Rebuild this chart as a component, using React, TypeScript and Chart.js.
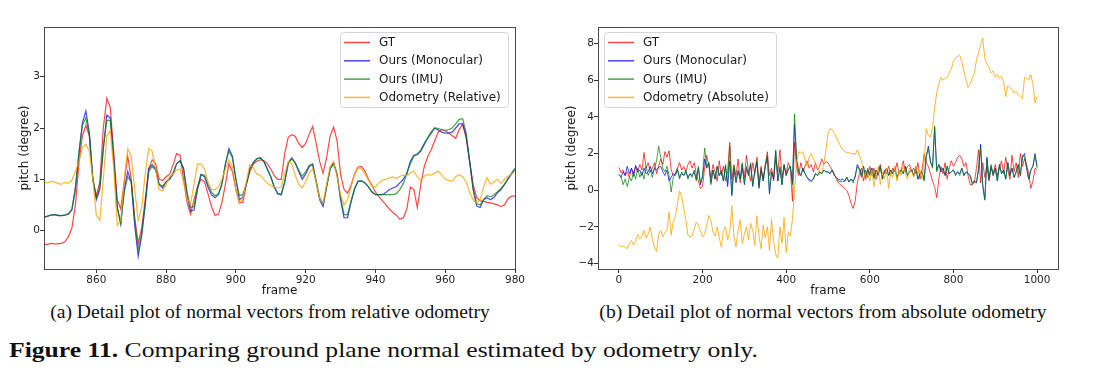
import React, { useEffect, useRef } from 'react';
import { Chart, registerables } from 'chart.js';
Chart.register(...registerables);

const SANS = '"DejaVu Sans", sans-serif';
const SERIF = '"Liberation Serif", "Times New Roman", serif';

// ---------- (a) relative odometry ----------
const relFrames = [
  845, 846, 847, 848, 849, 850, 851, 852, 853, 854,
  855, 856, 857, 858, 859, 860, 861, 862, 863, 864,
  865, 866, 867, 868, 869, 870, 871, 872, 873, 874,
  875, 876, 877, 878, 879, 880, 881, 882, 883, 884,
  885, 886, 887, 888, 889, 890, 891, 892, 893, 894,
  895, 896, 897, 898, 899, 900, 901, 902, 903, 904,
  905, 906, 907, 908, 909, 910, 911, 912, 913, 914,
  915, 916, 917, 918, 919, 920, 921, 922, 923, 924,
  925, 926, 927, 928, 929, 930, 931, 932, 933, 934,
  935, 936, 937, 938, 939, 940, 941, 942, 943, 944,
  945, 946, 947, 948, 949, 950, 951, 952, 953, 954,
  955, 956, 957, 958, 959, 960, 961, 962, 963, 964,
  965, 966, 967, 968, 969, 970, 971, 972, 973, 974,
  975, 976, 977, 978, 979, 980,
];
const relGT = [
  -0.27, -0.27, -0.25, -0.26, -0.26, -0.25, -0.22, -0.12, 0.05, 0.5,
  1.3, 1.85, 2.05, 1.85, 1.0, 0.68, 0.95, 2.0, 2.58, 2.4,
  1.5, 0.6, 0.42, 0.95, 1.45, 1.0, 0.25, -0.25, 0.05, 0.6,
  1.2, 1.38, 1.3, 1.0, 0.98, 1.05, 1.1, 1.28, 1.5, 1.47,
  1.0, 0.55, 0.32, 0.6, 0.85, 1.0, 0.95, 0.72, 0.47, 0.3,
  0.32, 0.55, 0.9, 1.3, 1.15, 0.8, 0.54, 0.55, 0.9, 1.15,
  1.3, 1.35, 1.38, 1.36, 1.3, 1.2, 1.07, 1.0, 1.0, 1.5,
  1.82, 1.87, 1.84, 1.7, 1.62, 1.7, 1.88, 2.03, 1.7, 1.35,
  1.12, 1.42, 1.84, 2.02, 1.75, 1.1, 0.8, 0.73, 0.88, 1.1,
  1.24, 1.25, 1.16, 1.0, 0.88, 0.75, 0.66, 0.58, 0.5, 0.42,
  0.35, 0.3, 0.22, 0.25, 0.42, 0.85, 0.8, 0.45, 0.9, 1.25,
  1.45, 1.58, 1.75, 1.92, 1.97, 1.95, 1.9, 1.85, 1.8, 1.97,
  2.07, 1.8, 1.35, 0.9, 0.64, 0.58, 0.57, 0.55, 0.54, 0.52,
  0.5, 0.47, 0.5, 0.62, 0.67, 0.67,
];
const relMono = [
  0.26, 0.28, 0.3, 0.31, 0.29, 0.29, 0.3, 0.32, 0.4, 0.8,
  1.5, 2.1, 2.33, 1.9, 1.0, 0.6, 0.8, 1.6, 2.25, 2.2,
  1.4, 0.45, 0.12, 0.8, 1.15, 0.95, 0.1, -0.5, -0.1, 0.5,
  1.2, 1.29, 1.2, 0.9, 0.83, 0.95, 1.0, 1.1, 1.3, 1.36,
  1.2, 0.7, 0.38, 0.4, 0.8, 1.09, 1.05, 0.85, 0.7, 0.64,
  0.7, 0.9, 1.3, 1.6, 1.45, 1.0, 0.6, 0.65, 0.9, 1.2,
  1.32, 1.4, 1.42, 1.35, 1.2, 1.05, 0.85, 0.72, 0.7, 0.95,
  1.32, 1.42, 1.32, 1.15, 1.0, 1.1, 1.25, 1.29, 0.95, 0.6,
  0.47, 0.85, 1.2, 1.32, 1.1, 0.6, 0.25, 0.25, 0.55, 0.8,
  0.96, 0.97, 0.93, 0.85, 0.75, 0.7, 0.7, 0.7, 0.74, 0.8,
  0.83, 0.86, 0.93, 1.0, 1.12, 1.35, 1.47, 1.48, 1.55, 1.68,
  1.8, 1.9, 2.0, 1.96, 1.92, 1.9, 1.9, 1.92, 2.0, 2.08,
  2.08, 1.85, 1.35, 0.8, 0.48, 0.45, 0.6, 0.64, 0.6, 0.65,
  0.74, 0.8, 0.9, 1.0, 1.1, 1.19,
];
const relIMU = [
  0.25, 0.28, 0.3, 0.31, 0.3, 0.29, 0.3, 0.33, 0.42, 0.85,
  1.5, 2.05, 2.2, 1.85, 1.0, 0.65, 0.85, 1.6, 2.15, 2.15,
  1.35, 0.45, 0.15, 0.75, 1.05, 0.95, 0.2, -0.38, -0.05, 0.5,
  1.15, 1.25, 1.18, 0.9, 0.87, 0.95, 1.02, 1.12, 1.3, 1.36,
  1.22, 0.75, 0.45, 0.47, 0.85, 1.1, 1.08, 0.9, 0.75, 0.68,
  0.72, 0.92, 1.3, 1.55, 1.42, 1.0, 0.68, 0.7, 0.92, 1.2,
  1.33, 1.4, 1.41, 1.35, 1.2, 1.05, 0.85, 0.72, 0.7, 0.95,
  1.3, 1.4, 1.32, 1.18, 1.06, 1.15, 1.27, 1.3, 0.98, 0.65,
  0.52, 0.85, 1.2, 1.3, 1.1, 0.65, 0.31, 0.31, 0.58, 0.82,
  0.96, 0.97, 0.93, 0.85, 0.75, 0.7, 0.7, 0.7, 0.7, 0.7,
  0.7, 0.72, 0.8, 0.92, 1.1, 1.3, 1.45, 1.5, 1.57, 1.7,
  1.82, 1.93, 2.0, 1.99, 1.97, 1.95, 1.97, 2.0, 2.08, 2.17,
  2.18, 1.9, 1.35, 0.82, 0.52, 0.5, 0.6, 0.68, 0.66, 0.7,
  0.76, 0.82, 0.9, 1.02, 1.12, 1.22,
];
const relOdom = [
  0.95, 0.93, 0.96, 0.95, 0.92, 0.9, 0.94, 0.92, 0.98, 1.15,
  1.35, 1.62, 1.68, 1.55, 1.0, 0.3, 0.2, 1.0, 1.85, 1.95,
  1.2, 0.1, 0.2, 1.0, 1.6, 1.45, 0.8, 0.2, 0.45, 1.1,
  1.6, 1.55, 1.2, 0.8, 0.78, 0.9, 1.05, 1.1, 1.18, 1.2,
  0.95, 0.62, 0.52, 0.9, 1.3, 1.3, 1.2, 0.95, 0.8, 0.8,
  0.85, 1.0, 1.2, 1.38, 1.25, 0.8, 0.54, 0.62, 0.95, 1.29,
  1.22, 1.1, 1.08, 1.0, 0.92, 0.88, 0.85, 0.83, 0.85, 1.1,
  1.35, 1.3, 1.08, 0.9, 0.83, 0.95, 1.12, 1.2, 0.95, 0.62,
  0.54, 0.9, 1.25, 1.35, 1.05, 0.7, 0.5, 0.6, 0.85, 1.1,
  1.22, 1.2, 1.1, 0.98, 0.86, 0.85, 0.93, 0.98, 1.0, 1.03,
  1.04, 1.02, 1.06, 1.08, 1.07, 1.12, 1.16, 1.05, 0.98, 1.06,
  1.09, 1.08, 1.12, 1.16, 1.08, 1.0, 0.98, 0.96, 1.05, 1.09,
  1.05, 0.95, 0.75, 0.6, 0.54, 0.6, 0.85, 1.03, 0.9, 0.95,
  1.0, 0.92, 1.0, 1.06, 1.1, 1.16,
];
const relXTicks = [860, 880, 900, 920, 940, 960, 980];
const relYTicks = [0, 1, 2, 3];

// ---------- (b) absolute odometry ----------
const absFrames = [
  0, 5, 10, 15, 20, 25, 30, 35, 40, 45,
  50, 55, 60, 65, 70, 75, 80, 85, 90, 95,
  100, 105, 110, 115, 120, 125, 130, 135, 140, 145,
  150, 155, 160, 165, 170, 175, 180, 185, 190, 195,
  200, 205, 210, 215, 220, 225, 230, 235, 240, 245,
  250, 255, 260, 265, 270, 275, 280, 285, 290, 295,
  300, 305, 310, 315, 320, 325, 330, 335, 340, 345,
  350, 355, 360, 365, 370, 375, 380, 385, 390, 395,
  400, 405, 410, 415, 420, 425, 430, 435, 440, 445,
  450, 455, 460, 465, 470, 475, 480, 485, 490, 495,
  500, 505, 510, 515, 520, 525, 530, 535, 540, 545,
  550, 555, 560, 565, 570, 575, 580, 585, 590, 595,
  600, 605, 610, 615, 620, 625, 630, 635, 640, 645,
  650, 655, 660, 665, 670, 675, 680, 685, 690, 695,
  700, 705, 710, 715, 720, 725, 730, 735, 740, 745,
  750, 755, 760, 765, 770, 775, 780, 785, 790, 795,
  800, 805, 810, 815, 820, 825, 830, 835, 840, 845,
  850, 855, 860, 865, 870, 875, 880, 885, 890, 895,
  900, 905, 910, 915, 920, 925, 930, 935, 940, 945,
  950, 955, 960, 965, 970, 975, 980, 985, 990, 995,
  1000,
];
const absGT = [
  1.25, 0.95, 1.1, 0.8, 1.0, 0.7, 1.2, 0.9, 1.3, 1.0,
  1.4, 1.1, 2.05, 1.2, 1.5, 1.0, 1.2, 1.5, 0.9, 1.3,
  1.7, 1.4, 2.1, 1.8, 2.15, 1.1, 0.8, 0.9, 1.2, 1.5,
  1.1, 1.3, 1.0, 1.4, 1.6, 1.2, 1.5, 0.9, 0.5, 0.1,
  0.2, 1.2, 1.9, 1.3, 0.7, 1.4, 1.0, 0.5, 1.6, 0.8,
  1.3, 0.5, 1.0, 2.6, 0.6, 1.4, 0.8, 1.7, 0.4, 1.2,
  0.7, 1.9, 1.0, 0.5, 1.5, 0.9, 1.8, 0.3, 1.3, 0.6,
  1.4, 2.1, 0.8, 1.2, 0.5, 1.7, 1.0, 2.2, 0.7, 1.3,
  0.9, 1.5, 1.2, -0.6, 2.6, 1.2, 0.8, 1.5, 1.0, 1.3,
  1.6, 1.2, 1.4, 1.0, 1.5, 1.1, 1.3, 1.7, 1.4, 1.55,
  1.5, 1.3, 1.1, 0.9, 0.6, 0.4, 0.3, 0.2, 0.1, 0.0,
  -0.3, -0.7, -1.0, -0.6, 0.4, 0.9, 1.2, 0.5, 1.1, 0.7,
  1.3, 0.8, 1.2, 0.6, 1.0, 1.4, 0.7, 1.1, 0.9, 1.3,
  0.8, 1.2, 1.0, 1.5, 0.9, 1.1, 1.6, 1.0, 1.3, 1.4,
  1.0, 1.2, 0.9, 1.5, 0.6, 1.1, 2.0, 1.5, 1.3, 0.9,
  0.5, 0.2, -0.4, 0.6, 1.3, 0.9, 1.5, 0.6, 1.2, 1.6,
  1.3, 1.5, 1.8, 1.9, 1.7, 1.3, 1.5, 0.8, 0.3, 0.3,
  0.4, 1.2, 2.2, 0.4, 1.5, 0.7, 1.3, 0.5, 1.2, 0.9,
  1.4, 0.8, 1.2, 1.6, 0.9, 1.8, 1.1, 0.6, 1.9, 1.0,
  1.5, 0.7, 2.0, 1.3, 1.7, 1.4, 0.9, 0.1, 0.5, 1.2,
  1.1,
];
const absMono = [
  0.85, 0.7, 1.0, 0.8, 1.3, 0.9, 1.2, 0.75, 1.35, 1.0,
  1.1, 0.8, 1.2, 0.9, 1.0, 1.3, 0.9, 1.2, 1.1, 1.25,
  1.3, 1.0, 0.8, 1.1, 0.5, 0.7, 0.9, 0.8, 1.1, 0.7,
  0.9, 0.8, 1.0, 0.7, 0.9, 0.8, 1.0, 0.6, 1.2, 0.3,
  0.7, 1.7, 1.2, 1.5, 0.4, 1.1, 0.6, 1.3, 0.8, 1.0,
  0.5, 1.3, 0.2, 1.6, -0.3, 1.2, 0.4, 1.0, 0.6, 1.4,
  0.3, 1.2, 0.8, 1.4, 0.2, 1.0, 1.5, 0.1, 1.1, 0.5,
  1.3, 1.8, -0.2, 1.0, 0.6, 2.1, 0.5, 1.2, 0.3, 1.4,
  0.8, 1.1, 1.3, 0.4, 3.6, 1.6, 1.0, 0.8, 1.2, 0.9,
  0.7, 0.6, 0.5, 0.6, 0.9, 0.8, 1.0, 0.9, 1.1, 1.0,
  1.0, 0.9, 1.1, 0.8, 0.7, 0.6, 0.55, 0.6, 0.5, 0.7,
  0.45, 0.6, 0.5, 0.7, 1.4, 1.2, 0.8, 1.3, 0.6, 1.1,
  0.9, 1.2, 0.7, 1.1, 0.8, 1.3, 0.6, 1.0, 1.2, 0.8,
  1.1, 0.9, 1.2, 0.7, 1.0, 1.1, 0.9, 1.3, 0.8, 1.0,
  1.1, 0.8, 1.2, 0.6, 0.9, 1.0, 0.6, 1.8, 2.4, 1.5,
  1.3, 3.4, 1.1, 1.4, 1.0, 1.2, 0.8, 1.3, 0.9, 1.0,
  1.1, 0.8, 1.0, 0.9, 1.2, 0.8, 1.0, 0.9, 0.8, 0.4,
  0.5, 0.4, 1.1, 2.5, 0.3, -0.5, 1.8, 0.6, 1.3, 0.8,
  1.2, 0.5, 1.4, 0.9, 1.1, 0.6, 1.5, 0.8, 1.2, 0.7,
  1.0, 1.4, 0.8, 1.8, 2.0, 1.2, 0.6, 1.1, 1.3, 2.0,
  1.3,
];
const absIMU = [
  0.85, 0.75, 0.3, 0.6, 0.2, 0.7, 0.5, 1.0, 0.6, 1.2,
  0.7, 1.0, 0.6, 1.3, 0.8, 1.1, 0.7, 1.2, 1.6, 2.4,
  1.8, 1.2, 1.0, 1.3, 0.8, -0.1, 0.7, 0.9, 1.2, 0.6,
  1.0, 0.8, 1.1, 0.6, 0.9, 0.7, 1.1, 0.5, 1.3, 0.4,
  0.8, 2.3, 1.3, 1.5, 0.3, 1.1, 0.6, 1.3, 0.8, 1.1,
  0.5, 1.4, 0.3, 2.4, -0.2, 1.3, 0.5, 1.1, 0.6, 1.5,
  0.4, 1.3, 0.8, 1.5, 0.3, 1.1, 1.6, 0.2, 1.2, 0.5,
  1.3, 1.9, -0.1, 1.0, 0.7, 2.2, 0.5, 1.3, 0.3, 1.4,
  0.8, 1.2, 1.3, 0.3, 4.15, 1.7, 1.0, 0.8, 1.2, 0.9,
  0.7, 0.5, 0.5, 0.6, 0.9, 0.8, 1.0, 0.9, 1.1, 1.0,
  1.0, 0.9, 1.1, 0.8, 0.7, 0.5, 0.45, 0.5, 0.45, 0.7,
  0.45, 0.6, 0.4, 0.8, 1.3, 1.1, 0.7, 1.3, 0.6, 1.2,
  0.8, 1.2, 0.6, 1.1, 0.9, 1.3, 0.6, 1.0, 1.2, 0.8,
  1.1, 0.9, 1.3, 0.6, 1.0, 1.1, 0.9, 1.3, 0.8, 1.0,
  1.1, 0.8, 1.3, 0.6, 0.9, 1.0, 0.5, 1.9, 2.3, 1.6,
  1.2, 3.5, 1.0, 1.4, 1.1, 1.2, 0.8, 1.3, 0.9, 1.0,
  1.1, 0.9, 1.0, 0.8, 1.2, 0.8, 1.0, 0.9, 0.8, 0.3,
  0.5, 0.4, 1.2, 2.3, 0.2, -0.55, 1.7, 0.6, 1.4, 0.8,
  1.2, 0.5, 1.4, 0.9, 1.1, 0.6, 1.5, 0.8, 1.2, 0.7,
  1.0, 1.4, 0.8, 1.9, 1.8, 1.2, 0.6, 1.1, 1.3, 1.9,
  1.2,
];
const absOdom = [
  -2.95, -3.1, -3.05, -3.1, -3.2, -2.9, -2.75, -3.0, -2.8, -2.4,
  -2.65, -2.5, -2.2, -2.6, -2.4, -2.0, -2.7, -3.1, -3.35, -2.4,
  -2.2, -2.55, -2.3, -2.2, -1.2, -2.45, -1.7, -1.45, -0.75, -0.05,
  -0.35, -1.0, -1.6, -2.45, -2.55, -2.5, -2.1, -1.75, -1.9, -2.2,
  -2.55, -2.4, -1.9, -1.37, -1.64, -2.3, -2.5, -2.0, -2.6, -3.1,
  -2.2, -2.0, -2.7, -2.3, -0.85, -2.5, -3.1, -2.2, -1.6, -2.9,
  -2.4, -2.0, -2.7, -1.8, -2.2, -3.0, -1.4, -2.5, -3.2, -1.9,
  -2.6, -2.0, -3.3, -1.6, -2.8, -3.5, -3.7, -2.0, -2.9, -1.5,
  -3.4, -2.3, -2.5, -1.6, 0.0, 1.5, 2.1, 2.0, 2.1, 1.7,
  1.3, 1.8, 2.0, 1.7, 1.45, 1.1, 0.85, 1.0, 1.45, 2.2,
  3.1, 3.35, 3.3, 3.1, 2.9, 2.65, 2.4, 2.2, 2.1, 2.06,
  2.05, 2.0, 2.0, 1.95, 2.2, 1.9, 1.6, 1.0, 0.6, 0.9,
  0.5, 1.1, 0.2, 0.8, 1.3, 0.3, 1.0, 0.6, 1.2, 0.1,
  1.0, 0.7, 1.3, 0.5, 1.1, 0.8, 1.4, 0.9, 0.6, 1.2,
  1.0, 0.7, 1.3, 0.9, 1.1, 0.6, 1.5, 3.35, 3.0, 2.9,
  3.4, 4.5, 5.3, 5.8, 6.15, 6.0, 6.1, 6.15, 6.4, 6.6,
  7.05, 7.2, 7.3, 7.35, 7.0, 6.5, 6.0, 5.6, 5.8, 6.1,
  6.4, 7.1, 7.5, 7.9, 8.3, 7.2, 6.9, 6.7, 6.4, 6.5,
  6.15, 6.3, 6.1, 6.2, 5.9, 5.1, 5.7, 5.6, 5.5, 5.3,
  5.4, 5.2, 5.1, 5.0, 6.15, 6.1, 6.0, 6.3, 5.8, 4.75,
  5.1,
];
const absXTicks = [0, 200, 400, 600, 800, 1000];
const absYTicks = [-4, -2, 0, 2, 4, 6, 8];

const COLORS = {
  gt: 'rgba(255,0,0,0.72)',
  mono: 'rgba(0,0,255,0.72)',
  imu: 'rgba(0,128,0,0.72)',
  odom: 'rgba(255,165,0,0.8)',
};

const mplDecor = {
  id: 'mplDecor',
  afterDraw(chart: any, _args: any, opts: any) {
    const { ctx, chartArea: a } = chart;
    ctx.save();
    ctx.strokeStyle = '#4a4a4a';
    ctx.lineWidth = 1;
    const L = Math.round(a.left) + 0.5;
    const T = Math.round(a.top) + 0.5;
    const R = Math.round(a.right) + 0.5;
    const B = Math.round(a.bottom) + 0.5;
    ctx.strokeRect(L, T, R - L, B - T);
    ctx.font = `12px ${SANS}`;
    const items = chart.data.datasets;
    const textW = Math.max(...items.map((d: any) => ctx.measureText(d.label).width));
    const w = Math.round(39 + textW + 7);
    const h = 75;
    const x = opts.align === 'right' ? Math.round(a.right - 7 - w) : Math.round(a.left + 6);
    const y = Math.round(a.top + 5);
    ctx.beginPath();
    ctx.roundRect(x + 0.5, y + 0.5, w, h, 3);
    ctx.fillStyle = 'rgba(255,255,255,0.85)';
    ctx.fill();
    ctx.strokeStyle = '#d6d6d6';
    ctx.stroke();
    items.forEach((d: any, i: number) => {
      const cy = y + 10.5 + i * 18.3;
      ctx.beginPath();
      ctx.strokeStyle = d.borderColor;
      ctx.lineWidth = 1.5;
      ctx.moveTo(x + 4, cy);
      ctx.lineTo(x + 30, cy);
      ctx.stroke();
      ctx.fillStyle = '#1a1a1a';
      ctx.textBaseline = 'middle';
      ctx.textAlign = 'left';
      ctx.fillText(d.label, x + 39, cy + 0.5);
    });
    ctx.restore();
  },
};

const fmt = (v: number) => (v < 0 ? '\u2212' + Math.abs(v) : String(v));

function makeConfig(p: {
  frames: number[];
  series: { label: string; values: number[]; color: string; order: number }[];
  xMin: number; xMax: number; yMin: number; yMax: number;
  xTicks: number[]; yTicks: number[];
  yAxisWidth: number; padRight: number; yTitlePad: number;
  align: string; lineWidth: number;
}) {
  return {
    type: 'line',
    data: {
      datasets: p.series.map((s) => ({
        label: s.label,
        data: p.frames.map((f, i) => ({ x: f, y: s.values[i] })),
        borderColor: s.color,
        backgroundColor: s.color,
        borderWidth: p.lineWidth,
        pointRadius: 0,
        fill: false,
        tension: 0,
        order: s.order,
      })),
    },
    options: {
      animation: false,
      responsive: false,
      events: [],
      layout: { padding: { left: 0, top: 27, right: p.padRight, bottom: 0 } },
      plugins: {
        legend: { display: false },
        tooltip: { enabled: false },
        mplDecor: { align: p.align },
      },
      scales: {
        x: {
          type: 'linear',
          min: p.xMin,
          max: p.xMax,
          afterBuildTicks: (s: any) => { s.ticks = p.xTicks.map((v) => ({ value: v })); },
          afterFit: (s: any) => { s.height = 31; },
          ticks: {
            font: { family: SANS, size: 10.5 },
            color: '#262626',
            padding: 1,
            maxRotation: 0,
            autoSkip: false,
            callback: (v: number) => fmt(v),
          },
          grid: { display: true, drawOnChartArea: false, drawTicks: true, tickLength: 4, tickColor: '#333', tickWidth: 1 },
          border: { display: false },
          title: { display: true, text: 'frame', font: { family: SANS, size: 12 }, color: '#1a1a1a', padding: { top: 0, bottom: 2 } },
        },
        y: {
          type: 'linear',
          min: p.yMin,
          max: p.yMax,
          afterBuildTicks: (s: any) => { s.ticks = p.yTicks.map((v) => ({ value: v })); },
          afterFit: (s: any) => { s.width = p.yAxisWidth; },
          ticks: {
            font: { family: SANS, size: 10.5 },
            color: '#262626',
            padding: 0,
            autoSkip: false,
            callback: (v: number) => fmt(v),
          },
          grid: { display: true, drawOnChartArea: false, drawTicks: true, tickLength: 4, tickColor: '#333', tickWidth: 1 },
          border: { display: false },
          title: { display: true, text: 'pitch (degree)', font: { family: SANS, size: 12 }, color: '#1a1a1a', padding: { top: p.yTitlePad, bottom: 0 } },
        },
      },
    },
    plugins: [mplDecor],
  } as any;
}

function ChartCanvas({ config, left, width, height }: { config: any; left: number; width: number; height: number }) {
  const ref = useRef<HTMLCanvasElement>(null);
  useEffect(() => {
    if (!ref.current) return;
    const chart = new Chart(ref.current, config);
    return () => chart.destroy();
  }, [config]);
  return (
    <canvas
      ref={ref}
      width={width}
      height={height}
      style={{ position: 'absolute', left, top: 0, width, height, display: 'block' }}
    />
  );
}

const relConfig = makeConfig({
  frames: relFrames,
  series: [
    { label: 'GT', values: relGT, color: COLORS.gt, order: 3 },
    { label: 'Ours (Monocular)', values: relMono, color: COLORS.mono, order: 2 },
    { label: 'Ours (IMU)', values: relIMU, color: COLORS.imu, order: 1 },
    { label: 'Odometry (Relative)', values: relOdom, color: COLORS.odom, order: 0 },
  ],
  xMin: 845, xMax: 980, yMin: -0.75, yMax: 3.97,
  xTicks: relXTicks, yTicks: relYTicks,
  yAxisWidth: 44, padRight: 25, yTitlePad: 18,
  align: 'right', lineWidth: 1.2,
});

const absConfig = makeConfig({
  frames: absFrames,
  series: [
    { label: 'GT', values: absGT, color: COLORS.gt, order: 3 },
    { label: 'Ours (Monocular)', values: absMono, color: COLORS.mono, order: 2 },
    { label: 'Ours (IMU)', values: absIMU, color: COLORS.imu, order: 1 },
    { label: 'Odometry (Absolute)', values: absOdom, color: COLORS.odom, order: 0 },
  ],
  xMin: -50, xMax: 1050, yMin: -4.3, yMax: 8.9,
  xTicks: absXTicks, yTicks: absYTicks,
  yAxisWidth: 48, padRight: 42, yTitlePad: 15,
  align: 'left', lineWidth: 1,
});

const captionStyle: React.CSSProperties = {
  position: 'absolute', top: 301, transform: 'translateX(-50%)', whiteSpace: 'nowrap',
  fontFamily: SERIF, fontSize: 19.6, lineHeight: '22px', color: '#111',
};

export default function App() {
  return (
    <div style={{ position: 'absolute', left: 0, top: 0, width: 1107, height: 387, background: '#fff', overflow: 'hidden' }}>
      <ChartCanvas config={relConfig} left={0} width={540} height={300} />
      <ChartCanvas config={absConfig} left={550} width={550} height={300} />
      <div style={{ ...captionStyle, left: 270 }}>
        (a) Detail plot of normal vectors from relative odometry
      </div>
      <div style={{ ...captionStyle, left: 823 }}>
        (b) Detail plot of normal vectors from absolute odometry
      </div>
      <div style={{ position: 'absolute', left: 9, top: 336, whiteSpace: 'nowrap', fontFamily: SERIF, fontSize: 22, lineHeight: '28px', color: '#111', transform: 'scaleX(1.165)', transformOrigin: 'left center' }}>
        <b>Figure 11.</b> Comparing ground plane normal estimated by odometry only.
      </div>
    </div>
  );
}
